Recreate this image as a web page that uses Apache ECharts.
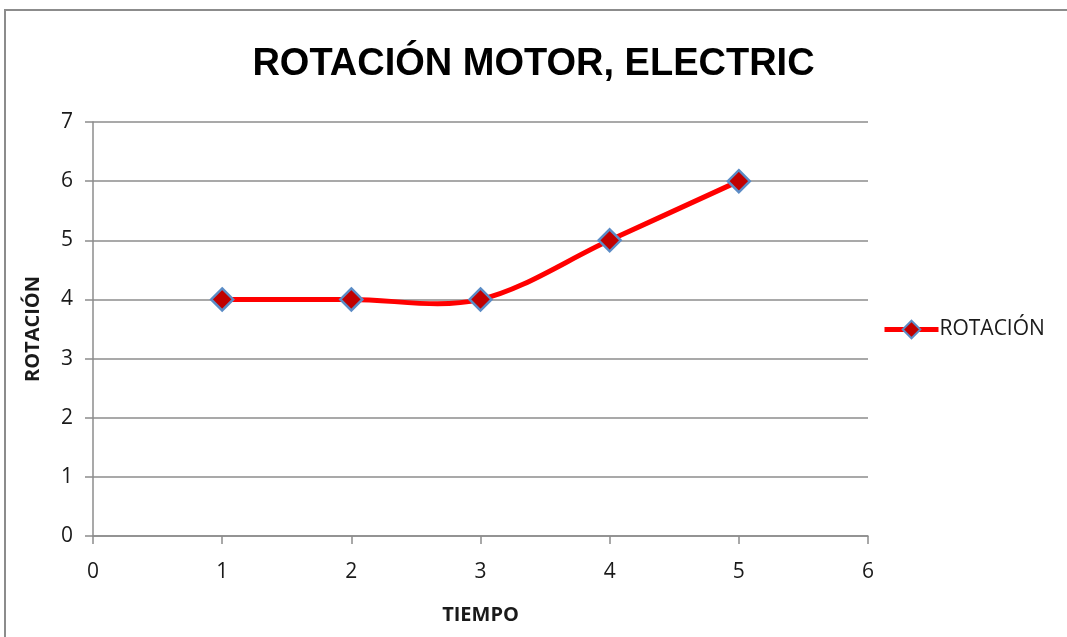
<!DOCTYPE html>
<html>
<head>
<meta charset="utf-8">
<script src="https://cdn.jsdelivr.net/npm/echarts@6/dist/echarts.min.js"></script>
<style>
  html, body { margin: 0; padding: 0; background: #ffffff; }
  #chart { width: 1067px; height: 637px; }
</style>
</head>
<body>
<div id="chart"></div>
<script>
// valores
var tiempo = [1, 2, 3, 4, 5];
var rotacion = [4, 4, 4, 5, 6];
var serieNombre = 'ROTACIÓN';

var chart = echarts.init(document.getElementById('chart'));

var puntos = [];
for (var i = 0; i < tiempo.length; i++) {
  puntos.push([tiempo[i], rotacion[i]]);
}

var fuente = "'Liberation Sans', Arial, sans-serif";
var fuenteNormal = "'Open Sans', 'Liberation Sans', sans-serif";

// curva suavizada estilo Excel (Catmull-Rom) calculada sobre las coordenadas del eje
function renderCurva(params, api) {
  if (params.dataIndex !== 0) return;
  var p = puntos.map(function (d) { return api.coord(d); });
  var path = 'M' + p[0][0] + ' ' + p[0][1];
  for (var k = 0; k < p.length - 1; k++) {
    var p0 = p[k - 1] || p[k];
    var p1 = p[k];
    var p2 = p[k + 1];
    var p3 = p[k + 2] || p[k + 1];
    var c1x = p1[0] + (p2[0] - p0[0]) / 6;
    var c1y = p1[1] + (p2[1] - p0[1]) / 6;
    var c2x = p2[0] - (p3[0] - p1[0]) / 6;
    var c2y = p2[1] - (p3[1] - p1[1]) / 6;
    path += ' C' + c1x + ' ' + c1y + ' ' + c2x + ' ' + c2y + ' ' + p2[0] + ' ' + p2[1];
  }
  return {
    type: 'path',
    shape: { pathData: path },
    style: { fill: 'none', stroke: '#ff0000', lineWidth: 5 }
  };
}

var option = {
  animation: false,
  backgroundColor: '#ffffff',
  title: {
    text: 'ROTACIÓN MOTOR, ELECTRIC',
    left: 'center',
    top: 46,
    padding: 0,
    textStyle: {
      fontFamily: fuente,
      fontWeight: 'bold',
      fontSize: 38,
      color: '#000000'
    }
  },
  graphic: [{
    type: 'rect',
    shape: { x: 5, y: 10, width: 1100, height: 700 },
    style: { fill: 'none', stroke: '#8c8c8c', lineWidth: 2 },
    silent: true
  }],
  legend: {
    orient: 'vertical',
    left: 877,
    top: 314,
    itemWidth: 54,
    itemHeight: 22,
    itemGap: 4,
    textStyle: { fontFamily: fuenteNormal, fontSize: 21, color: '#1a1a1a', padding: [0, 0, 0, -4] },
    data: [{
      name: serieNombre,
      lineStyle: { color: '#ff0000', width: 5, opacity: 1 },
      itemStyle: { color: '#c00000', borderColor: '#5b8cc6', borderWidth: 2 }
    }]
  },
  grid: {
    left: 93,
    right: 199,
    top: 122,
    bottom: 101
  },
  xAxis: {
    type: 'value',
    min: 0,
    max: 6,
    interval: 1,
    name: 'TIEMPO',
    nameLocation: 'middle',
    nameGap: 69,
    nameTextStyle: { fontFamily: fuenteNormal, fontWeight: 'bold', fontSize: 20, color: '#1a1a1a' },
    axisLine: { show: true, lineStyle: { color: '#8c8c8c', width: 1.5 } },
    axisTick: { show: true, inside: false, length: 8, lineStyle: { color: '#8c8c8c', width: 1.5 } },
    axisLabel: { fontFamily: fuenteNormal, fontSize: 21, color: '#1a1a1a', margin: 26 },
    splitLine: { show: false }
  },
  yAxis: {
    type: 'value',
    min: 0,
    max: 7,
    interval: 1,
    name: 'ROTACIÓN',
    nameLocation: 'middle',
    nameGap: 50,
    nameTextStyle: { fontFamily: fuenteNormal, fontWeight: 'bold', fontSize: 20, color: '#1a1a1a' },
    axisLine: { show: true, lineStyle: { color: '#8c8c8c', width: 1.5 } },
    axisTick: { show: true, length: 8, lineStyle: { color: '#8c8c8c', width: 1.5 } },
    axisLabel: { fontFamily: fuenteNormal, fontSize: 21, color: '#1a1a1a', margin: 20 },
    splitLine: { show: true, lineStyle: { color: '#8c8c8c', width: 1.5 } }
  },
  series: [{
    name: 'curva',
    type: 'custom',
    renderItem: renderCurva,
    data: puntos,
    silent: true,
    z: 2
  }, {
    name: serieNombre,
    type: 'line',
    data: puntos,
    symbol: 'diamond',
    symbolSize: 22,
    lineStyle: { color: '#ff0000', width: 5, opacity: 0 },
    itemStyle: { color: '#c00000', borderColor: '#5b8cc6', borderWidth: 2.5 },
    z: 3
  }]
};

chart.setOption(option);
window.addEventListener('resize', function () {
  chart.resize();
});
</script>
</body>
</html>
